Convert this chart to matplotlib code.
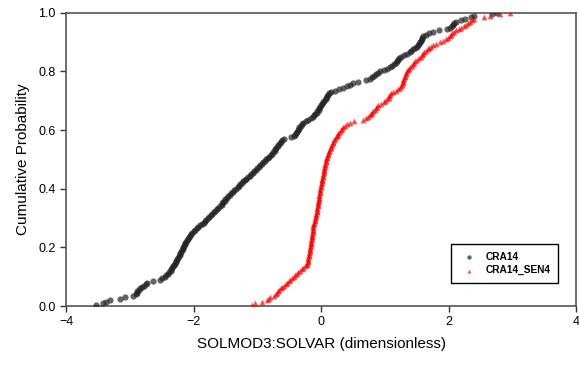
import matplotlib
matplotlib.use("Agg")
import matplotlib.pyplot as plt
import numpy as np

plt.rcParams['font.family'] = ['Liberation Sans', 'DejaVu Sans']

cra14 = [
    -3.53, -3.42, -3.37, -3.31, -3.15, -3.07, -2.95, -2.90, -2.89, -2.88,
    -2.86, -2.84, -2.81, -2.78, -2.75, -2.73, -2.64, -2.53, -2.49, -2.45,
    -2.43, -2.40, -2.38, -2.36, -2.35, -2.33, -2.32, -2.31, -2.29, -2.28,
    -2.27, -2.26, -2.25, -2.23, -2.22, -2.21, -2.20, -2.18, -2.17, -2.16,
    -2.15, -2.14, -2.13, -2.12, -2.10, -2.09, -2.07, -2.05, -2.04, -2.02,
    -2.00, -1.98, -1.95, -1.93, -1.90, -1.87, -1.84, -1.82, -1.80, -1.78,
    -1.75, -1.73, -1.71, -1.68, -1.66, -1.63, -1.61, -1.58, -1.56, -1.55,
    -1.53, -1.51, -1.50, -1.48, -1.46, -1.43, -1.41, -1.38, -1.36, -1.33,
    -1.31, -1.29, -1.27, -1.24, -1.22, -1.19, -1.17, -1.14, -1.12, -1.10,
    -1.07, -1.05, -1.02, -1.00, -0.98, -0.95, -0.93, -0.91, -0.88, -0.86,
    -0.83, -0.81, -0.79, -0.77, -0.75, -0.73, -0.72, -0.70, -0.68, -0.67,
    -0.65, -0.63, -0.61, -0.58, -0.47, -0.43, -0.41, -0.39, -0.37, -0.36,
    -0.35, -0.34, -0.32, -0.30, -0.28, -0.24, -0.20, -0.16, -0.13, -0.11,
    -0.09, -0.07, -0.06, -0.04, -0.03, -0.02, 0.00, 0.02, 0.03, 0.05,
    0.07, 0.08, 0.10, 0.11, 0.13, 0.16, 0.22, 0.28, 0.35, 0.40,
    0.45, 0.50, 0.58, 0.70, 0.76, 0.80, 0.83, 0.86, 0.90, 0.93,
    0.98, 1.03, 1.08, 1.11, 1.14, 1.17, 1.19, 1.21, 1.23, 1.25,
    1.30, 1.35, 1.39, 1.41, 1.44, 1.47, 1.50, 1.52, 1.54, 1.55,
    1.56, 1.58, 1.59, 1.60, 1.65, 1.70, 1.75, 1.85, 1.98, 2.02,
    2.05, 2.07, 2.09, 2.12, 2.20, 2.25, 2.35, 2.40, 2.68, 2.76,
]

cra14_sen4 = [
    -1.08, -1.03, -0.93, -0.85, -0.82, -0.80, -0.74, -0.71, -0.69, -0.67,
    -0.66, -0.63, -0.61, -0.58, -0.55, -0.53, -0.50, -0.48, -0.45, -0.43,
    -0.41, -0.38, -0.36, -0.33, -0.30, -0.28, -0.25, -0.22, -0.215, -0.21,
    -0.205, -0.20, -0.20, -0.195, -0.19, -0.185, -0.18, -0.18, -0.175, -0.17,
    -0.165, -0.16, -0.16, -0.155, -0.15, -0.145, -0.14, -0.135, -0.135, -0.13,
    -0.13, -0.13, -0.13, -0.125, -0.12, -0.115, -0.11, -0.10, -0.095, -0.09,
    -0.085, -0.08, -0.075, -0.07, -0.065, -0.06, -0.06, -0.055, -0.05, -0.05,
    -0.045, -0.04, -0.035, -0.03, -0.03, -0.025, -0.02, -0.02, -0.015, -0.01,
    -0.005, 0.00, 0.005, 0.01, 0.01, 0.015, 0.02, 0.025, 0.03, 0.035,
    0.04, 0.045, 0.05, 0.05, 0.055, 0.06, 0.065, 0.07, 0.08, 0.085,
    0.09, 0.10, 0.105, 0.11, 0.12, 0.13, 0.14, 0.15, 0.16, 0.17,
    0.18, 0.19, 0.20, 0.22, 0.23, 0.25, 0.26, 0.27, 0.29, 0.31,
    0.33, 0.35, 0.37, 0.40, 0.45, 0.52, 0.66, 0.71, 0.74, 0.76,
    0.78, 0.80, 0.82, 0.84, 0.86, 0.88, 0.90, 0.94, 0.98, 1.01,
    1.04, 1.06, 1.07, 1.08, 1.10, 1.13, 1.17, 1.21, 1.24, 1.26,
    1.27, 1.28, 1.285, 1.29, 1.30, 1.31, 1.32, 1.33, 1.34, 1.35,
    1.36, 1.38, 1.40, 1.42, 1.44, 1.46, 1.48, 1.51, 1.53, 1.56,
    1.58, 1.60, 1.62, 1.64, 1.67, 1.70, 1.72, 1.75, 1.80, 1.86,
    1.92, 1.96, 1.99, 2.02, 2.04, 2.06, 2.08, 2.12, 2.16, 2.20,
    2.24, 2.28, 2.31, 2.34, 2.37, 2.40, 2.55, 2.65, 2.81, 2.96,
]

series_labels = ["CRA14", "CRA14_SEN4"]
x_ticks = [-4, -2, 0, 2, 4]
y_ticks = [0.0, 0.2, 0.4, 0.6, 0.8, 1.0]

fig = plt.figure(figsize=(5.79, 3.67), dpi=100)
ax = fig.add_axes([0.114, 0.166, 0.881, 0.799])

p1 = np.arange(1, len(cra14) + 1) / len(cra14)
p2 = np.arange(1, len(cra14_sen4) + 1) / len(cra14_sen4)

ax.scatter(cra14, p1, s=20, marker='o', color='#222222', alpha=0.7,
           linewidths=0, label=series_labels[0], zorder=3)
ax.scatter(cra14_sen4, p2, s=17, marker='^', color='#ff0000', alpha=0.7,
           linewidths=0, label=series_labels[1], zorder=3)

ax.set_xlim(-4, 4)
ax.set_ylim(0, 1)
ax.set_xticks(x_ticks)
ax.set_yticks(y_ticks)
ax.set_yticklabels([f"{v:.1f}" for v in y_ticks])
ax.tick_params(direction='out', length=4, width=1, colors='#333333',
               labelsize=9, labelcolor='black')
for s in ax.spines.values():
    s.set_color('#555555')
    s.set_linewidth(1.2)

ax.set_xlabel("SOLMOD3:SOLVAR (dimensionless)", fontsize=11, labelpad=6)
ax.set_ylabel("Cumulative Probability", fontsize=11, labelpad=6)

leg = ax.legend(loc='lower right', bbox_to_anchor=(0.975, 0.06),
                prop={'weight': 'bold', 'size': 7.3},
                frameon=True, fancybox=False, edgecolor='black',
                framealpha=1, borderpad=0.8, handletextpad=0.6,
                markerscale=0.7, labelspacing=0.3)
leg.get_frame().set_linewidth(1.0)

fig.savefig("out.png", dpi=100)
